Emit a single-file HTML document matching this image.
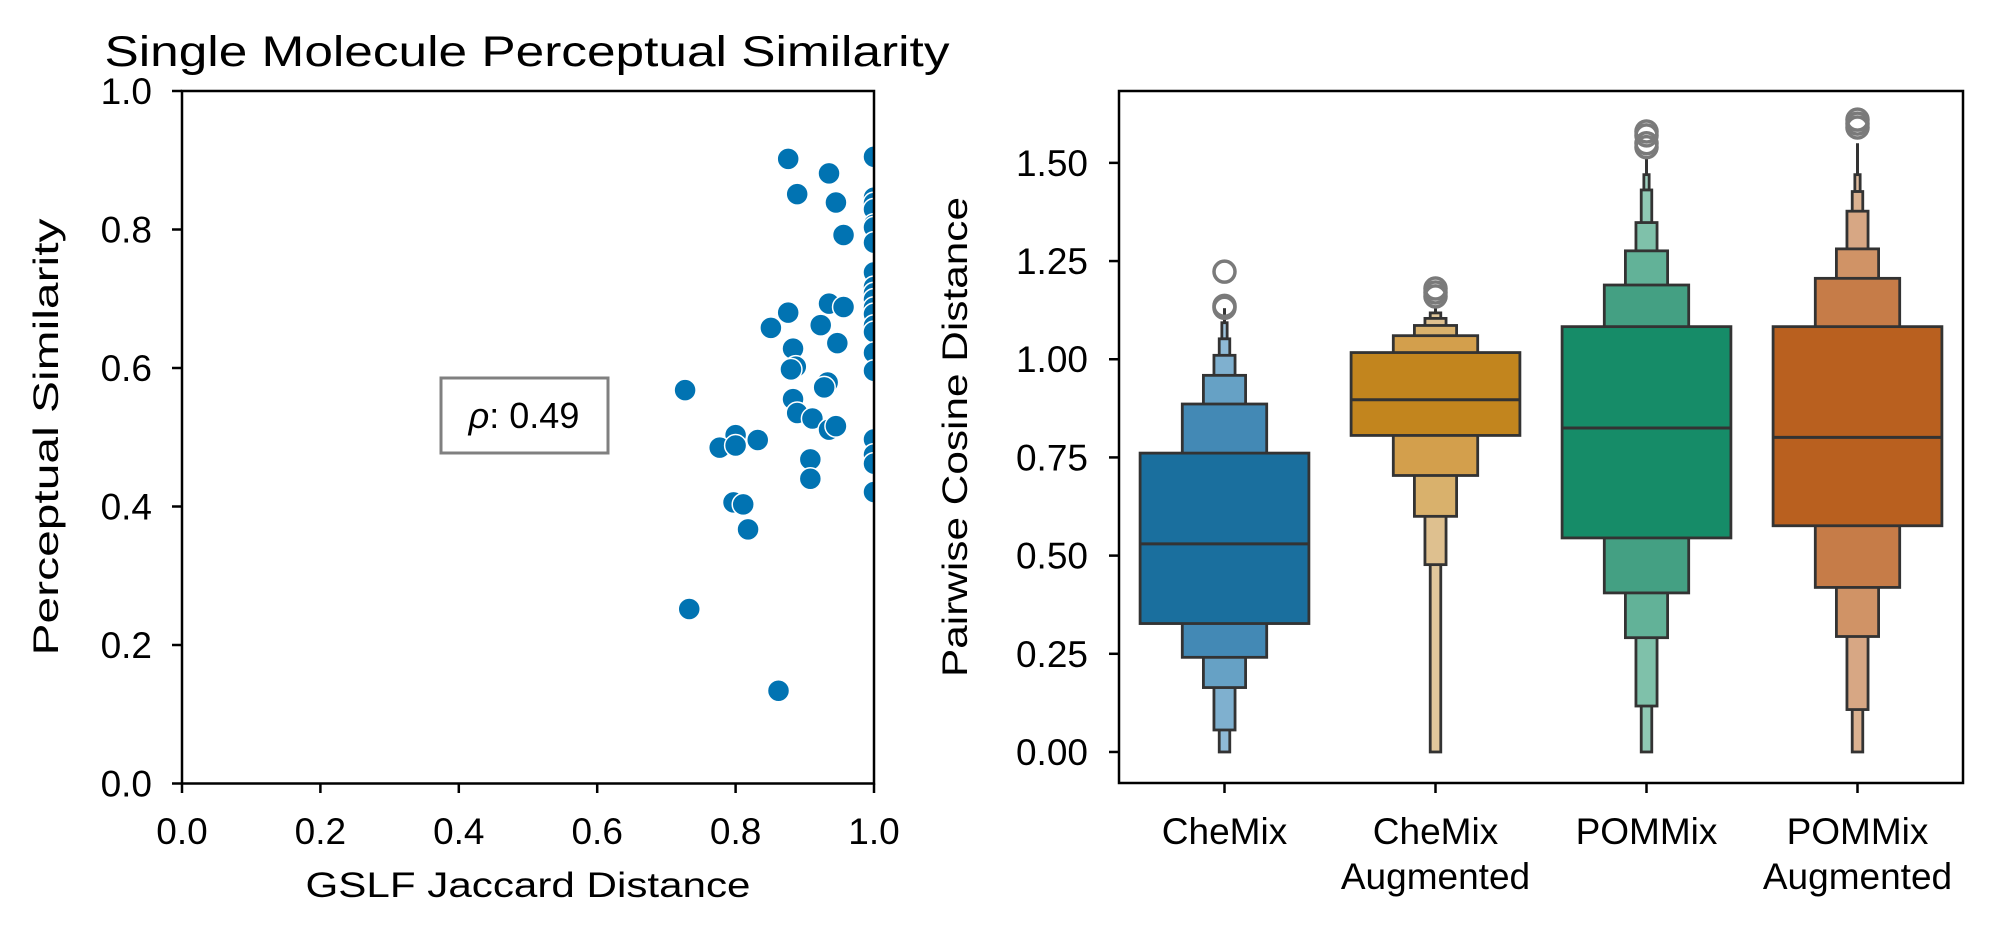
<!DOCTYPE html>
<html><head><meta charset="utf-8"><style>
html,body{margin:0;padding:0;background:#fff;}
svg{display:block;font-family:"Liberation Sans","DejaVu Sans",sans-serif;}
</style></head><body>
<svg id="fig" width="2001" height="938" viewBox="0 0 2001 938" xmlns="http://www.w3.org/2000/svg">
<defs><clipPath id="clipL"><rect x="182" y="91" width="692" height="693"/></clipPath></defs>
<g id="left"></g>
<g id="right"></g>
</svg>
<script>
// ---------- scatter data ----------
const scatterX = [0.876,0.935,0.889,0.945,0.956,0.935,0.956,0.876,0.851,0.923,0.947,0.883,0.887,0.880,0.933,0.928,0.727,0.883,0.889,0.911,0.935,0.945,0.800,0.777,0.800,0.832,0.908,0.908,0.797,0.811,0.818,0.733,0.862,
1,1,1,1,1,1,1,1,1,1,1,1,1,1,1,1,1,1,1,1,1];
const scatterY = [0.902,0.881,0.851,0.839,0.792,0.693,0.688,0.680,0.658,0.662,0.636,0.628,0.602,0.598,0.579,0.572,0.568,0.555,0.535,0.527,0.511,0.516,0.503,0.485,0.488,0.496,0.468,0.440,0.406,0.403,0.367,0.252,0.134,
0.905,0.846,0.838,0.829,0.807,0.803,0.781,0.738,0.717,0.708,0.699,0.687,0.678,0.661,0.652,0.622,0.596,0.497,0.475,0.462,0.421];
const scatterTicks = ["0.0","0.2","0.4","0.6","0.8","1.0"];
const rhoLabel = "0.49";

// ---------- boxen data ----------
const categories = ["CheMix","CheMix|Augmented","POMMix","POMMix|Augmented"];
const medians = [0.530,0.897,0.825,0.801];
const levelUpper = [
  [0.761,0.886,0.959,1.010,1.052,1.093],
  [1.017,1.060,1.086,1.104,1.118],
  [1.083,1.189,1.276,1.348,1.431,1.470],
  [1.083,1.206,1.281,1.377,1.427,1.470]];
const levelLower = [
  [0.327,0.241,0.164,0.056,0.000,1.052],
  [0.806,0.704,0.600,0.477,0.000],
  [0.545,0.405,0.291,0.117,0.000,1.431],
  [0.576,0.419,0.294,0.108,0.000,1.427]];
const whiskerTop = [1.13,1.13,1.51,1.55];
const outliers = [[1.223,1.131,1.136],[1.16,1.17,1.18],[1.54,1.55,1.57,1.58],[1.59,1.60,1.61]];
const yTicks = ["0.00","0.25","0.50","0.75","1.00","1.25","1.50"];

const palettes = [
  ["#1a6f9e","#4389b5","#66a1c5","#7fb0cf","#8fbad6","#9fc4dc"],
  ["#c2851e","#d39f4c","#d9b16c","#dec08f","#e0c79c"],
  ["#168c68","#44a083","#62b298","#7fc1aa","#8fc9b5","#9fd0bf"],
  ["#b9601f","#c67c48","#d09366","#d7a784","#dbb291","#dfbc9f"]];

const NS="http://www.w3.org/2000/svg";
function mk(tag, attrs, parent){const e=document.createElementNS(NS,tag);for(const k in attrs)e.setAttribute(k,attrs[k]);parent.appendChild(e);return e;}

// ---------- left scatter ----------
const L=document.getElementById('left');
const lx=v=>182+v*692, ly=v=>783.5-v*692.5;
const title=mk('text',{x:527,y:66,'text-anchor':'middle','font-size':43,textLength:845,lengthAdjust:'spacingAndGlyphs',fill:'#000'},L);
title.textContent="Single Molecule Perceptual Similarity";


const pts=mk('g',{'clip-path':'url(#clipL)'},L);


scatterX.forEach((x,i)=>{
  const c=mk('circle',{cx:lx(x),cy:ly(scatterY[i]),r:11,fill:'#0173b2',stroke:'#fff','stroke-width':1.5},pts);
  
  
});
mk('rect',{x:182,y:91,width:692,height:692.5,fill:'none',stroke:'#000','stroke-width':2.5},L);
scatterTicks.forEach((t,i)=>{
  const v=parseFloat(t);
  mk('line',{x1:lx(v),x2:lx(v),y1:783.5,y2:793,stroke:'#000','stroke-width':2.5},L);
  const tx=mk('text',{x:lx(v),y:844,'text-anchor':'middle','font-size':37,fill:'#000'},L);tx.textContent=t;
  
  
  mk('line',{x1:172,x2:182,y1:ly(v),y2:ly(v),stroke:'#000','stroke-width':2.5},L);
  const ty=mk('text',{x:152,y:ly(v)+13,'text-anchor':'end','font-size':37,fill:'#000'},L);ty.textContent=t;
  
  
});
const xt=mk('text',{x:528,y:897,'text-anchor':'middle','font-size':35,textLength:445,lengthAdjust:'spacingAndGlyphs'},L);xt.textContent="GSLF Jaccard Distance";


const yt=mk('text',{x:0,y:0,'text-anchor':'middle','font-size':35,transform:'translate(58,437) rotate(-90)',textLength:437,lengthAdjust:'spacingAndGlyphs'},L);yt.textContent="Perceptual Similarity";


const rb=mk('g',{},L);


mk('rect',{x:441,y:378,width:167,height:75,fill:'#fff',stroke:'#808080','stroke-width':3},rb);
const rt=mk('text',{x:524,y:428,'text-anchor':'middle','font-size':36},rb);
rt.innerHTML='<tspan font-style="italic">ρ</tspan>: '+rhoLabel;

// ---------- right boxen ----------
const R=document.getElementById('right');
const X0=1119,X1=1963,Y0=91,Y1=783;
const ymin=-0.079,ymax=1.683;
const ry=v=>Y1-(v-ymin)/(ymax-ymin)*(Y1-Y0);
const band=(X1-X0)/categories.length;
const cx=i=>X0+band*(i+0.5);
const fullW=band*0.8;
categories.forEach((cat,i)=>{
  const g=mk('g',{},R);
  
  
  const c=cx(i);
  mk('line',{x1:c,x2:c,y1:ry(levelUpper[i][levelUpper[i].length-1]),y2:ry(whiskerTop[i]),stroke:'#333','stroke-width':3},g);
  for(let k=levelUpper[i].length-1;k>=0;k--){
    const w=fullW/Math.pow(2,k);
    const lo=levelLower[i][k], hi=levelUpper[i][k];
    const r=mk('rect',{x:c-w/2,y:ry(hi),width:w,height:Math.max(1,ry(Math.min(lo,hi))-ry(hi)),fill:palettes[i][k],stroke:'#333','stroke-width':2.8},g);
    
    
  }
  mk('line',{x1:c-fullW/2,x2:c+fullW/2,y1:ry(medians[i]),y2:ry(medians[i]),stroke:'#333','stroke-width':3},g);
  outliers[i].forEach(o=>{
    const oc=mk('circle',{cx:c,cy:ry(o),r:10.5,fill:'none',stroke:'#7a7a7a','stroke-width':3.5},g);
    
    
  });
  mk('line',{x1:c,x2:c,y1:Y1,y2:Y1+10,stroke:'#000','stroke-width':2.5},R);
  const parts=cat.split('|');
  parts.forEach((p,j)=>{
    const t=mk('text',{x:c,y:844+j*45,'text-anchor':'middle','font-size':37},R);t.textContent=p;
    
    
  });
});
mk('rect',{x:X0,y:Y0,width:X1-X0,height:Y1-Y0,fill:'none',stroke:'#000','stroke-width':2.5},R);
yTicks.forEach(t=>{
  const v=parseFloat(t);
  mk('line',{x1:X0-10,x2:X0,y1:ry(v),y2:ry(v),stroke:'#000','stroke-width':2.5},R);
  const tt=mk('text',{x:1088,y:ry(v)+13,'text-anchor':'end','font-size':37},R);tt.textContent=t;
  
  
});
const ryt=mk('text',{x:0,y:0,'text-anchor':'middle','font-size':35,transform:'translate(967,437) rotate(-90)',textLength:480,lengthAdjust:'spacingAndGlyphs'},R);ryt.textContent="Pairwise Cosine Distance";


</script>
</body></html>
